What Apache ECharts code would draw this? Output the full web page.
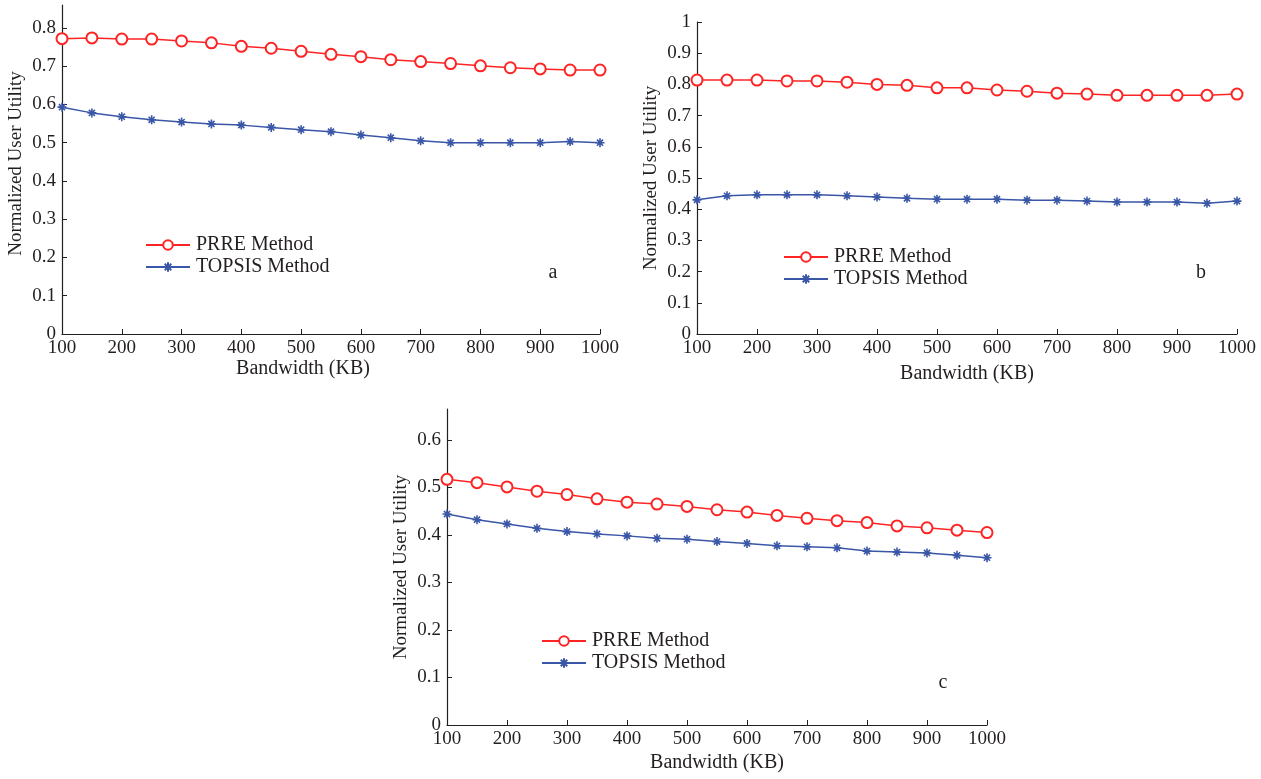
<!DOCTYPE html>
<html>
<head>
<meta charset="utf-8">
<script src="https://cdn.jsdelivr.net/npm/echarts@6/dist/echarts.min.js"></script>
<style>
  html, body { margin: 0; padding: 0; background: #fff; }
  #chart { width: 1261px; height: 779px; }
</style>
</head>
<body>
<div id="chart"></div>
<script>
const bandwidth = [100, 150, 200, 250, 300, 350, 400, 450, 500, 550, 600, 650, 700, 750, 800, 850, 900, 950, 1000];

// panel a
const prreA = [0.772, 0.774, 0.771, 0.771, 0.766, 0.761, 0.752, 0.747, 0.739, 0.731, 0.725, 0.717, 0.712, 0.707, 0.701, 0.696, 0.693, 0.690, 0.690];
const topsisA = [0.593, 0.578, 0.568, 0.560, 0.554, 0.549, 0.546, 0.540, 0.534, 0.529, 0.520, 0.513, 0.505, 0.500, 0.500, 0.500, 0.500, 0.503, 0.500];
// panel b
const prreB = [0.814, 0.814, 0.814, 0.811, 0.811, 0.807, 0.800, 0.797, 0.789, 0.789, 0.782, 0.778, 0.772, 0.769, 0.765, 0.765, 0.765, 0.765, 0.769];
const topsisB = [0.430, 0.443, 0.446, 0.446, 0.446, 0.443, 0.439, 0.435, 0.432, 0.432, 0.432, 0.429, 0.429, 0.426, 0.423, 0.423, 0.423, 0.419, 0.426];
// panel c
const prreC = [0.517, 0.510, 0.501, 0.492, 0.485, 0.476, 0.469, 0.465, 0.460, 0.453, 0.448, 0.441, 0.435, 0.430, 0.426, 0.419, 0.415, 0.410, 0.405];
const topsisC = [0.444, 0.432, 0.423, 0.414, 0.407, 0.402, 0.398, 0.393, 0.391, 0.386, 0.382, 0.377, 0.375, 0.373, 0.366, 0.364, 0.362, 0.357, 0.352];

const yTicksA = [0, 0.1, 0.2, 0.3, 0.4, 0.5, 0.6, 0.7, 0.8];
const yTicksB = [0, 0.1, 0.2, 0.3, 0.4, 0.5, 0.6, 0.7, 0.8, 0.9, 1];
const yTicksC = [0, 0.1, 0.2, 0.3, 0.4, 0.5, 0.6];

const FONT = "Liberation Serif";
const INK = "#231f20";
const RED = "#ff2424";
const BLUE = "#3a57a7";
const STAR = "path://M5,0L5,10M0,5L10,5M1.6,1.6L8.4,8.4M8.4,1.6L1.6,8.4";

const pairs = (ys) => bandwidth.map((x, i) => [x, ys[i]]);

function xAxisFor(gridIndex, nameGap, namePad) {
  return {
    gridIndex,
    type: "value",
    min: 100,
    max: 1000,
    interval: 100,
    name: "Bandwidth (KB)",
    nameLocation: "middle",
    nameGap,
    nameTextStyle: { fontFamily: FONT, fontSize: 20, color: INK, padding: namePad },
    axisLine: { lineStyle: { color: INK, width: 1.2 } },
    axisTick: { inside: true, length: 5, lineStyle: { color: INK } },
    axisLabel: { fontFamily: FONT, fontSize: 19, color: INK, margin: 5, formatter: (v) => String(v) },
    splitLine: { show: false },
  };
}

function yAxisFor(gridIndex, max, ticks, namePad) {
  return {
    gridIndex,
    type: "value",
    min: 0,
    max,
    name: "Normalized User Utility",
    nameLocation: "middle",
    nameGap: 36,
    nameTextStyle: { fontFamily: FONT, fontSize: 19, color: INK, padding: namePad },
    axisLine: { show: true, lineStyle: { color: INK, width: 1.2 } },
    axisTick: { show: true, inside: true, length: 5, customValues: ticks, lineStyle: { color: INK } },
    axisLabel: {
      fontFamily: FONT, fontSize: 19, color: INK, margin: 6,
      customValues: ticks,
      formatter: (v) => (v === 0 || v === 1 ? String(v) : v.toFixed(1)),
    },
    splitLine: { show: false },
  };
}

function lineSeries(name, idx, ys, isPrre) {
  return {
    name,
    type: "line",
    xAxisIndex: idx,
    yAxisIndex: idx,
    data: pairs(ys),
    symbol: isPrre ? "emptyCircle" : STAR,
    symbolSize: isPrre ? 11 : 9,
    showAllSymbol: true,
    lineStyle: { color: isPrre ? RED : BLUE, width: 1.5 },
    itemStyle: isPrre
      ? { color: RED, borderColor: RED, borderWidth: 1.2 }
      : { color: BLUE, borderColor: BLUE, borderWidth: 1.6 },
    animation: false,
  };
}

function legendAt(left, top) {
  return {
    left, top,
    orient: "vertical",
    padding: 0,
    itemGap: 2,
    itemWidth: 44,
    itemHeight: 12,
    selectedMode: false,
    textStyle: { fontFamily: FONT, fontSize: 20, color: INK, padding: [0, 0, 0, 1] },
    data: ["PRRE Method", "TOPSIS Method"],
  };
}

const chart = echarts.init(document.getElementById("chart"));
chart.setOption({
  backgroundColor: "#fff",
  animation: false,
  grid: [
    { left: 62, top: 5, width: 538, height: 329 },
    { left: 697, top: 22, width: 540, height: 312 },
    { left: 447, top: 409, width: 540, height: 316 },
  ],
  xAxis: [xAxisFor(0, 24, [0, 56, 0, 0]), xAxisFor(1, 30, 0), xAxisFor(2, 28, 0)],
  yAxis: [
    yAxisFor(0, 0.86, yTicksA, [0, 0, 0, 12]),
    yAxisFor(1, 1, yTicksB, 0),
    yAxisFor(2, 0.665, yTicksC, 0),
  ],
  legend: [legendAt(145, 235), legendAt(783, 247), legendAt(541, 631)],
  series: [
    lineSeries("PRRE Method", 0, prreA, true),
    lineSeries("TOPSIS Method", 0, topsisA, false),
    lineSeries("PRRE Method", 1, prreB, true),
    lineSeries("TOPSIS Method", 1, topsisB, false),
    lineSeries("PRRE Method", 2, prreC, true),
    lineSeries("TOPSIS Method", 2, topsisC, false),
  ],
  graphic: [
    { type: "text", x: 553, y: 273, style: { text: "a", font: "20px " + FONT, fill: INK, align: "center", verticalAlign: "middle" } },
    { type: "text", x: 1201, y: 273, style: { text: "b", font: "20px " + FONT, fill: INK, align: "center", verticalAlign: "middle" } },
    { type: "text", x: 943, y: 683, style: { text: "c", font: "20px " + FONT, fill: INK, align: "center", verticalAlign: "middle" } },
  ],
});
</script>
</body>
</html>
